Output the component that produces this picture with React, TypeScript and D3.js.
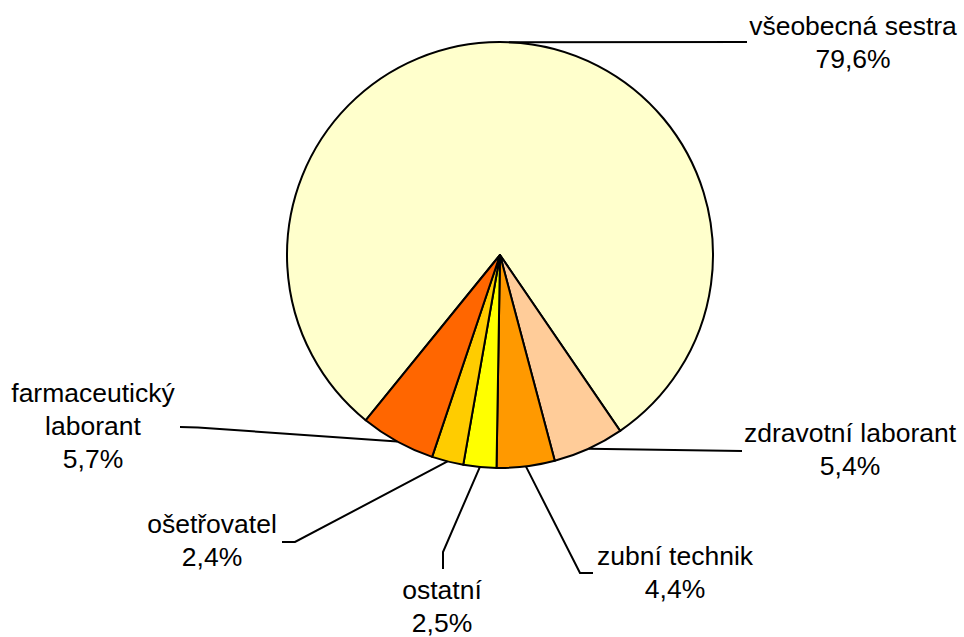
import React from "react";
import * as d3 from "d3";

const categories = [
  "všeobecná sestra",
  "zdravotní laborant",
  "zubní technik",
  "ostatní",
  "ošetřovatel",
  "farmaceutický laborant",
];
const values = [79.6, 5.4, 4.4, 2.5, 2.4, 5.7];
const valueLabels = ["79,6%", "5,4%", "4,4%", "2,5%", "2,4%", "5,7%"];
const labelLines = [
  ["všeobecná sestra"],
  ["zdravotní laborant"],
  ["zubní technik"],
  ["ostatní"],
  ["ošetřovatel"],
  ["farmaceutický", "laborant"],
];
const colors = ["#FFFFCC", "#FFCC99", "#FF9900", "#FFFF00", "#FFCC00", "#FF6600"];

// layout: label center x, first baseline y, leader line path points (after pie edge)
const labelLayout = [
  { x: 853, y: 35, leader: [[747, 42]] },
  { x: 850, y: 442, leader: [[742, 451]] },
  { x: 675, y: 565, leader: [[580, 573], [593, 573]] },
  { x: 442, y: 599, leader: [[443, 552], [443, 569]] },
  { x: 212, y: 533, leader: [[295, 542], [282, 542]] },
  { x: 93, y: 402, leader: [[198, 427.5], [180, 427]] },
];

const W = 964;
const H = 637;
const cx = 500;
const cy = 255;
const R = 213;
const startDeg = 219.1;
const lineH = 33;

export default function App() {
  const start = (startDeg * Math.PI) / 180;
  const pie = d3
    .pie<number>()
    .sort(null)
    .value((d) => d)
    .startAngle(start)
    .endAngle(start + 2 * Math.PI);
  const arcs = pie(values);
  const arc = d3.arc<d3.PieArcDatum<number>>().innerRadius(0).outerRadius(R);
  const line = d3.line();

  return (
    <svg
      width={W}
      height={H}
      style={{ position: "absolute", left: 0, top: 0, background: "#fff" }}
      fontFamily="Arial, 'Liberation Sans', sans-serif"
    >
      <g transform={`translate(${cx},${cy})`}>
        {arcs.map((a, i) => (
          <path key={i} d={arc(a) || ""} fill={colors[i]} stroke="#000" strokeWidth={2} strokeLinejoin="round" />
        ))}
      </g>
      {arcs.map((a, i) => {
        const mid = (a.startAngle + a.endAngle) / 2;
        const p0: [number, number] = [cx + R * Math.sin(mid), cy - R * Math.cos(mid)];
        const pts = [p0, ...(labelLayout[i].leader as [number, number][])];
        return <path key={"l" + i} d={line(pts) || ""} fill="none" stroke="#000" strokeWidth={2} />;
      })}
      {categories.map((c, i) => {
        const L = labelLayout[i];
        const lines = [...labelLines[i], valueLabels[i]];
        return (
          <text key={"t" + i} textAnchor="middle" fontSize={26.5} fill="#000">
            {lines.map((s, j) => (
              <tspan key={j} x={L.x} y={L.y + j * lineH}>
                {s}
              </tspan>
            ))}
          </text>
        );
      })}
    </svg>
  );
}
